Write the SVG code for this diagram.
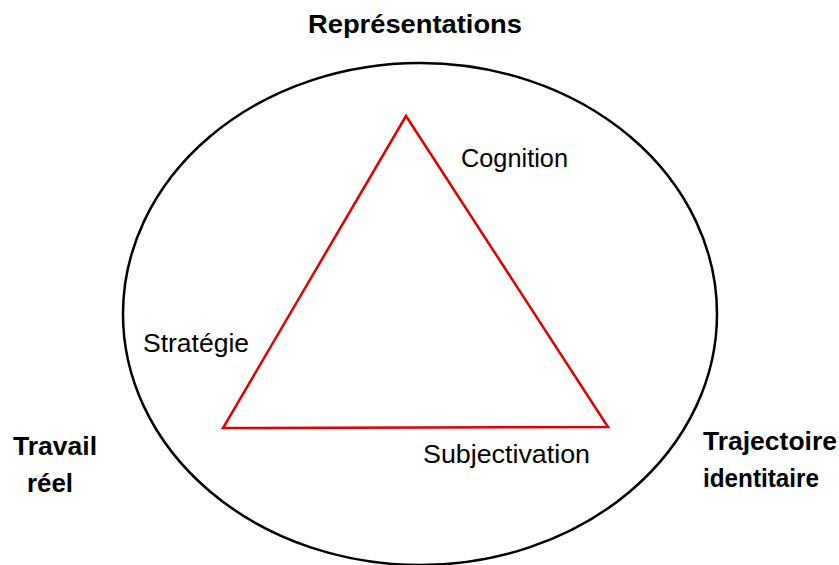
<svg xmlns="http://www.w3.org/2000/svg" width="839" height="565" viewBox="0 0 839 565">
<style>
.lbl{font-family:"Liberation Sans",Arial,sans-serif;font-size:25px;fill:#000}
.b{font-weight:bold}
</style>
<rect width="839" height="565" fill="#fff"/>
<g id="cercle"><ellipse cx="420" cy="314" rx="297" ry="251" fill="none" stroke="#000" stroke-width="2.5"/></g>
<g id="connecteurs"><polygon points="406,116 223,428 608,427" fill="none" stroke="#e00000" stroke-width="2.5" stroke-linejoin="miter"/></g>
<g id="representations"><text class="lbl b" x="308" y="33" textLength="214" lengthAdjust="spacingAndGlyphs">Représentations</text></g>
<g id="cognition"><text class="lbl" x="461" y="167" textLength="107" lengthAdjust="spacingAndGlyphs">Cognition</text></g>
<g id="strategie"><text class="lbl" x="143" y="352" textLength="106" lengthAdjust="spacingAndGlyphs">Stratégie</text></g>
<g id="subjectivation"><text class="lbl" x="423" y="463" textLength="167" lengthAdjust="spacingAndGlyphs">Subjectivation</text></g>
<g id="travail"><text class="lbl b" x="13" y="455" textLength="84" lengthAdjust="spacingAndGlyphs">Travail</text><text class="lbl b" x="27" y="492" textLength="46" lengthAdjust="spacingAndGlyphs">réel</text></g>
<g id="trajectoire"><text class="lbl b" x="703" y="450" textLength="134" lengthAdjust="spacingAndGlyphs">Trajectoire</text><text class="lbl b" x="703" y="487" textLength="116" lengthAdjust="spacingAndGlyphs">identitaire</text></g>
</svg>
